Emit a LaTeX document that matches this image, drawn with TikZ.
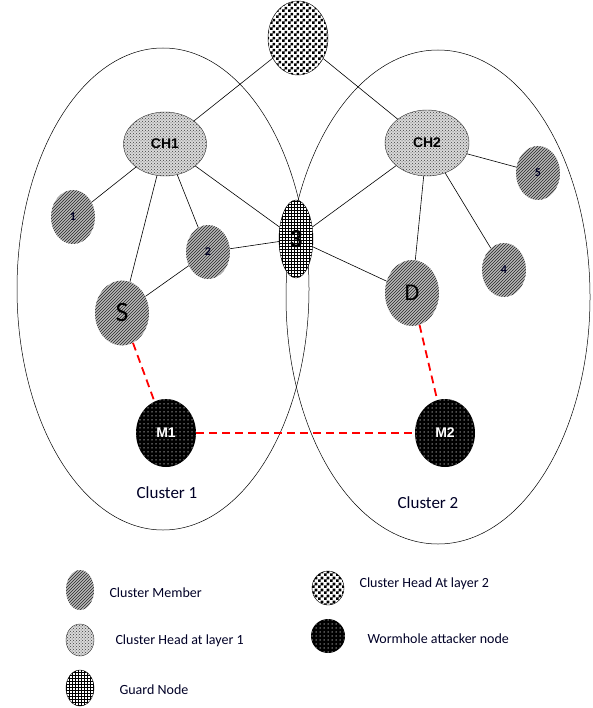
\documentclass[tikz,border=0pt]{standalone}
\usepackage{fontspec}
\setmainfont{Carlito}
\newfontfamily\arialfont{Liberation Sans}
\usetikzlibrary{shapes.geometric,patterns}
\pgfdeclarepatternformonly{finecheck}{\pgfqpoint{0pt}{0pt}}{\pgfqpoint{6pt}{6pt}}{\pgfqpoint{6pt}{6pt}}{%
  \pgfpathrectangle{\pgfqpoint{0pt}{0pt}}{\pgfqpoint{3pt}{3pt}}%
  \pgfpathrectangle{\pgfqpoint{3pt}{3pt}}{\pgfqpoint{3pt}{3pt}}%
  \pgfusepath{fill}}
\pgfdeclarepatternformonly{bigdots}{\pgfqpoint{-1pt}{-1pt}}{\pgfqpoint{1pt}{1pt}}{\pgfqpoint{4pt}{4pt}}{%
  \pgfpathcircle{\pgfqpoint{0pt}{0pt}}{0.75pt}%
  \pgfusepath{fill}}
\begin{document}
\begin{tikzpicture}[x=1pt,y=-1pt,
  nd/.style={ellipse,inner sep=0pt},
  sz/.style 2 args={minimum width=#1pt, minimum height=#2pt},
  member/.style={nd, preaction={fill=gray!55}, pattern=north east lines, pattern color=black!85},
  chone/.style={nd, draw=gray!40!black, preaction={fill=gray!30}, pattern=crosshatch dots, pattern color=black!75},
  guard/.style={nd, draw, fill=white, postaction={pattern=grid}},
  chtwo/.style={nd, draw, fill=white, postaction={pattern=finecheck}},
  worm/.style={nd, fill=black, postaction={pattern=bigdots, pattern color=gray!75}},
  cluster/.style={nd, draw, line width=0.5pt},
  link/.style={draw, line width=0.6pt},
  wlink/.style={draw=red, line width=1.8pt, dash pattern=on 8pt off 5pt},
  lbl/.style={anchor=west, font=\fontsize{14}{16}\selectfont, text=black!85!blue},
  num/.style={font=\fontsize{12}{13}\selectfont\bfseries, text=black!85!blue}
]
\useasboundingbox (0,0) rectangle (592,708);
% clusters
\node[cluster, sz={292}{482}] (c1) at (163,289) {};
\node[cluster, sz={304}{494}] (c2) at (438,297) {};
\node[font=\fontsize{17}{19}\selectfont, text=black!85!blue] (c1l) at (167,493) {Cluster 1};
\node[font=\fontsize{17}{19}\selectfont, text=black!85!blue] (c2l) at (428,503) {Cluster 2};
% nodes
\node[chtwo, sz={60}{74}] (top) at (298,38) {};
\node[chone, sz={83}{64}] (ch1) at (165,144) {\arialfont\bfseries\fontsize{14}{15}\selectfont CH1};
\node[chone, sz={84}{66}] (ch2) at (427,143) {\arialfont\bfseries\fontsize{14}{15}\selectfont CH2};
\node[member, sz={44}{54}, num] (n1) at (73,217) {1};
\node[member, sz={44}{54}, num] (n2) at (208,252) {2};
\node[guard, sz={34}{78}] (g3) at (296,239) {\fontsize{26}{26}\selectfont\bfseries 3};
\node[member, sz={54}{65}] (s) at (122,313) {\fontsize{28}{28}\selectfont S};
\node[member, sz={54}{66}] (d) at (412,293) {\fontsize{24}{24}\selectfont D};
\node[member, sz={44}{54}, num] (n4) at (504,270) {4};
\node[member, sz={44}{54}, num] (n5) at (538,173) {5};
\node[worm, sz={60}{68}] (m1) at (166,433) {\color{white}\arialfont\bfseries\fontsize{14}{15}\selectfont M1};
\node[worm, sz={60}{68}] (m2) at (445,433) {\color{white}\arialfont\bfseries\fontsize{14}{15}\selectfont M2};
% links
\draw[link] (top) -- (ch1);
\draw[link] (top) -- (ch2);
\draw[link] (ch1) -- (n1);
\draw[link] (ch1) -- (s);
\draw[link] (ch1) -- (n2);
\draw[link] (ch1) -- (g3);
\draw[link] (n2) -- (g3);
\draw[link] (n2) -- (s);
\draw[link] (ch2) -- (g3);
\draw[link] (g3) -- (d);
\draw[link] (ch2) -- (d);
\draw[link] (ch2) -- (n4);
\draw[link] (ch2) -- (n5);
\draw[wlink] (s) -- (m1);
\draw[wlink] (d) -- (m2);
\draw[wlink] (m1) -- (m2);
% legend
\node[member, sz={28}{40}] (k1) at (80,590) {};
\node[lbl] (k1t) at (106,593) {Cluster Member};
\node[chone, sz={28}{32}] (k2) at (80,640) {};
\node[lbl] (k2t) at (112,641) {Cluster Head at layer 1};
\node[guard, sz={28}{36}] (k3) at (80,688) {};
\node[lbl] (k3t) at (116,690) {Guard Node};
\node[chtwo, sz={32}{34}] (k4) at (328,588) {};
\node[lbl] (k4t) at (356,584) {Cluster Head At layer 2};
\node[worm, sz={34}{34}] (k5) at (328,636) {};
\node[lbl] (k5t) at (364,639) {Wormhole attacker node};
\end{tikzpicture}
\end{document}
